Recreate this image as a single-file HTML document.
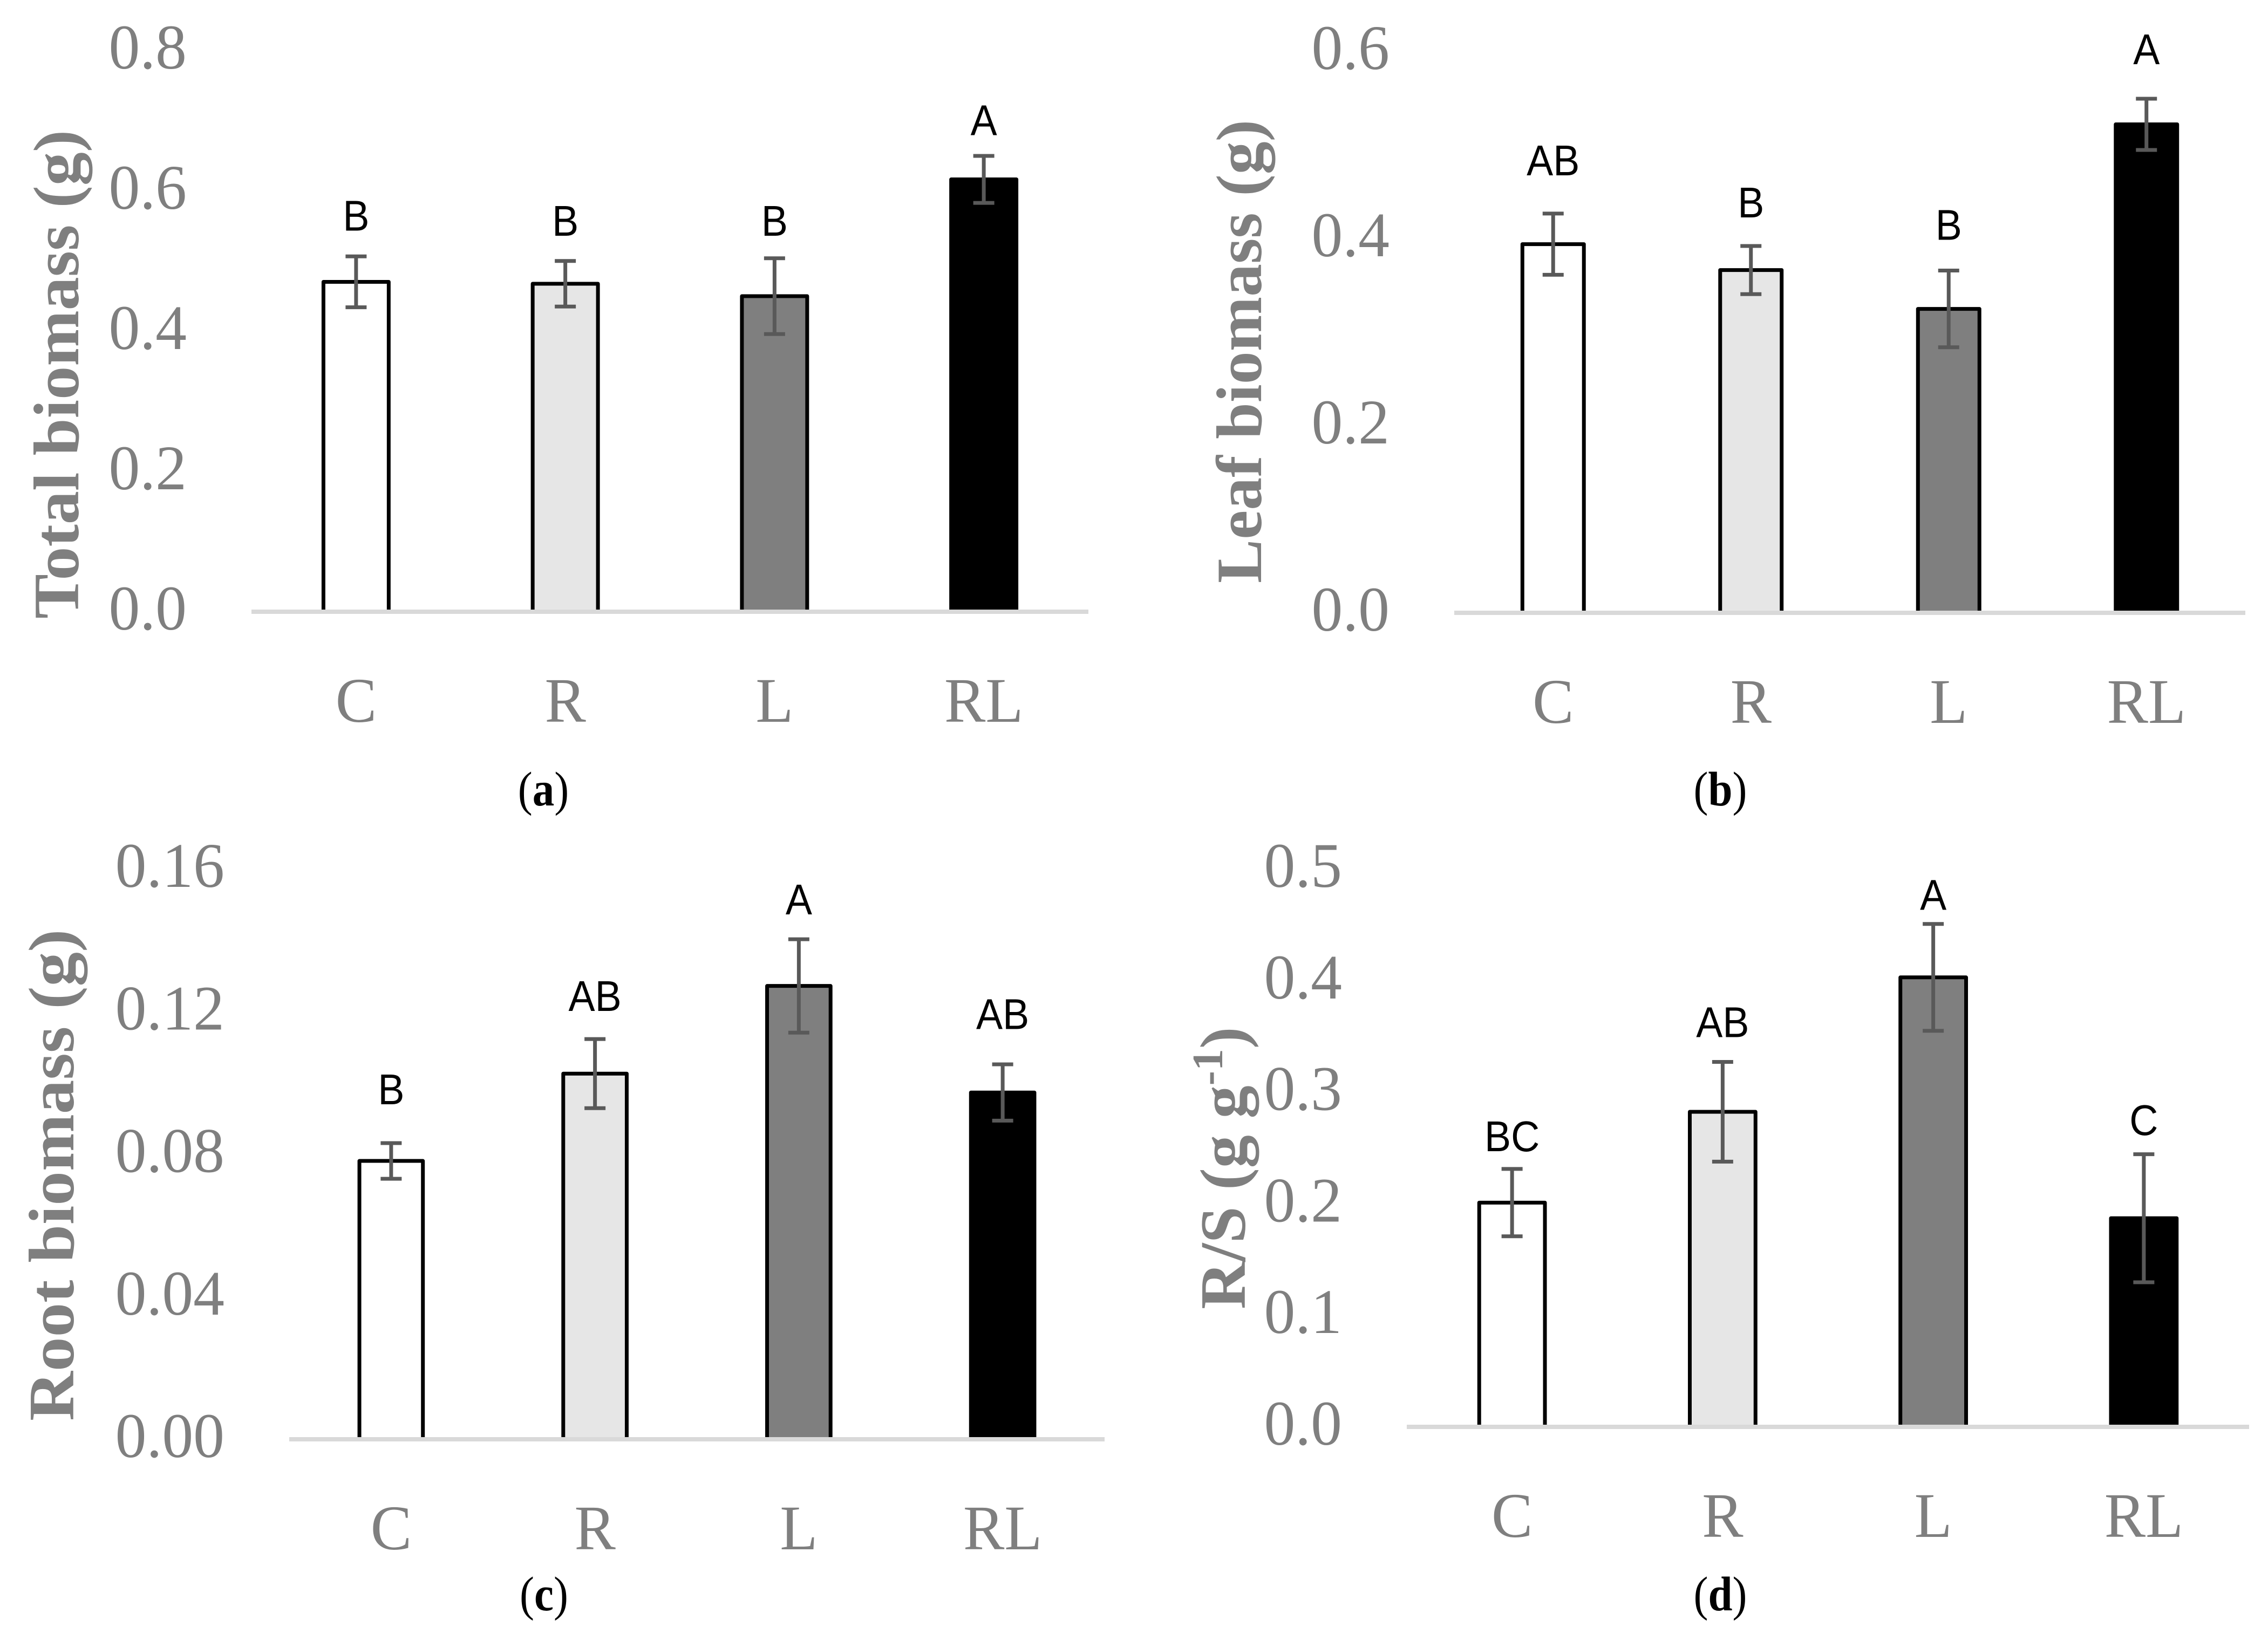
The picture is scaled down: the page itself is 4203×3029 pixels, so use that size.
<!DOCTYPE html>
<html lang="en">
<head>
<meta charset="utf-8">
<title>Biomass bar charts</title>
<style>
  html, body { margin: 0; padding: 0; background: #fff; }
  svg { display: block; }
  .tick, .cat { font-family: "Liberation Serif", serif; font-size: 118px; fill: #7f7f7f; }
  .axis-title { font-family: "Liberation Serif", serif; font-weight: bold; font-size: 120px; fill: #7f7f7f; }
  .letter { font-family: "Liberation Sans", sans-serif; font-size: 80px; fill: #000; }
  .caption { font-family: "Liberation Serif", serif; font-size: 90px; fill: #000; }
  .caption tspan { font-weight: bold; }
</style>
</head>
<body>
<svg id="figure" xmlns="http://www.w3.org/2000/svg" width="4203" height="3029" viewBox="0 0 4203 3029">
  <rect width="4203" height="3029" fill="#fff"/>

  <text class="axis-title" transform="translate(145,1147) rotate(-90) scale(1.035,1)">Total biomass (g)</text>
  <text class="axis-title" transform="translate(2337,1081) rotate(-90) scale(1.015,1)">Leaf biomass (g)</text>
  <text class="axis-title" transform="translate(136,2634) rotate(-90) scale(1.06,1)">Root biomass (g)</text>
  <text class="axis-title" transform="translate(2307,2427) rotate(-90) scale(1.02,1)">R/S (g g<tspan dy="-42" font-size="80">-1</tspan><tspan dy="42">)</tspan></text>

  <text class="caption" transform="translate(1007,1493) scale(0.9,1)" text-anchor="middle">(<tspan>a</tspan>)</text>
  <text class="caption" transform="translate(3188,1493) scale(0.9,1)" text-anchor="middle">(<tspan>b</tspan>)</text>
  <text class="caption" transform="translate(1008,2985) scale(0.9,1)" text-anchor="middle">(<tspan>c</tspan>)</text>
  <text class="caption" transform="translate(3188,2985) scale(0.9,1)" text-anchor="middle">(<tspan>d</tspan>)</text>
</svg>

<script>
// Shared categories
const categories = ["C", "R", "L", "RL"];

// Panel (a) Total biomass
const totalTicks = ["0.0", "0.2", "0.4", "0.6", "0.8"];
const totalValues = [0.4704, 0.4677, 0.450, 0.6165];
const totalErrors = [0.0363, 0.0325, 0.054, 0.0335];
const totalLetters = ["B", "B", "B", "A"];
const totalLetterLift = [0.0369, 0.0358, 0.0321, 0.0296];

// Panel (b) Leaf biomass
const leafTicks = ["0.0", "0.2", "0.4", "0.6"];
const leafValues = [0.3939, 0.3662, 0.3247, 0.5219];
const leafErrors = [0.0327, 0.0257, 0.041, 0.0274];
const leafLetters = ["AB", "B", "B", "A"];
const leafLetterLift = [0.0408, 0.0307, 0.033, 0.0369];

// Panel (c) Root biomass
const rootTicks = ["0.00", "0.04", "0.08", "0.12", "0.16"];
const rootValues = [0.0781, 0.1026, 0.1272, 0.0973];
const rootErrors = [0.005, 0.0097, 0.0131, 0.0079];
const rootLetters = ["B", "AB", "A", "AB"];
const rootLetterLift = [0.0109, 0.0079, 0.007, 0.0099];

// Panel (d) Root/shoot ratio
const ratioTicks = ["0.0", "0.1", "0.2", "0.3", "0.4", "0.5"];
const ratioValues = [0.201, 0.2824, 0.4029, 0.187];
const ratioErrors = [0.0302, 0.0447, 0.0479, 0.0574];
const ratioLetters = ["BC", "AB", "A", "C"];
const ratioLetterLift = [0.0158, 0.0223, 0.0126, 0.0172];

const barFills = ["#ffffff", "#e6e6e6", "#7f7f7f", "#000000"];
const barKeys = ["c", "r", "l", "rl"];

const SVG_NS = "http://www.w3.org/2000/svg";
const figure = document.getElementById("figure");

function make(tag, attrs, parent) {
  const el = document.createElementNS(SVG_NS, tag);
  for (const k in attrs) el.setAttribute(k, attrs[k]);
  parent.appendChild(el);
  return el;
}

function drawPanel(p) {
  const group = make("g", {}, figure);
  
  

  const max = parseFloat(p.ticks[p.ticks.length - 1]);
  const y = v => p.axisY - (v / max) * (p.axisY - p.topY);
  const band = (p.right - p.left) / categories.length;
  const x = i => p.left + band * (i + 0.5);
  const barW = band * 0.33 - 7;

  p.ticks.forEach(t => {
    const label = make("text", {
      class: "tick",
      "text-anchor": "end",
      transform: "translate(" + (p.left - 120) + "," + (y(parseFloat(t)) + 33) + ") scale(0.98,1)"
    }, group);
    label.textContent = t;
    
    
  });

  categories.forEach((c, i) => {
    const v = p.values[i], e = p.errors[i];

    const bar = make("rect", {
      x: x(i) - barW / 2,
      y: y(v),
      width: barW,
      height: p.axisY - y(v),
      fill: barFills[i],
      stroke: "#000",
      "stroke-width": 7,
      "stroke-linejoin": "round"
    }, group);
    
    

    const whisker = make("path", {
      d: "M" + (x(i) - 19.5) + " " + y(v + e) + "H" + (x(i) + 19.5) +
         "M" + x(i) + " " + y(v + e) + "V" + y(v - e) +
         "M" + (x(i) - 19.5) + " " + y(v - e) + "H" + (x(i) + 19.5),
      fill: "none",
      stroke: "#595959",
      "stroke-width": 7
    }, group);
    
    

    const letter = make("text", {
      class: "letter",
      "text-anchor": "middle",
      transform: "translate(" + x(i) + "," + y(v + e + p.lift[i]) + ") scale(0.92,1)"
    }, group);
    letter.textContent = p.letters[i];
    
    

    const cat = make("text", {
      class: "cat",
      "text-anchor": "middle",
      transform: "translate(" + x(i) + "," + (p.axisY + 204) + ") scale(0.97,1)"
    }, group);
    cat.textContent = c;
    
    
  });

  const axis = make("line", {
    x1: p.left, x2: p.right, y1: p.axisY, y2: p.axisY,
    stroke: "#d9d9d9", "stroke-width": 8
  }, group);
  
  
}

drawPanel({ key: "total", left: 466, right: 2017, axisY: 1134, topY: 94,
  ticks: totalTicks, values: totalValues, errors: totalErrors, letters: totalLetters, lift: totalLetterLift });
drawPanel({ key: "leaf", left: 2695, right: 4161, axisY: 1136, topY: 95,
  ticks: leafTicks, values: leafValues, errors: leafErrors, letters: leafLetters, lift: leafLetterLift });
drawPanel({ key: "root", left: 536, right: 2047, axisY: 2668, topY: 1611,
  ticks: rootTicks, values: rootValues, errors: rootErrors, letters: rootLetters, lift: rootLetterLift });
drawPanel({ key: "ratio", left: 2607, right: 4168, axisY: 2645, topY: 1611,
  ticks: ratioTicks, values: ratioValues, errors: ratioErrors, letters: ratioLetters, lift: ratioLetterLift });
</script>
</body>
</html>
